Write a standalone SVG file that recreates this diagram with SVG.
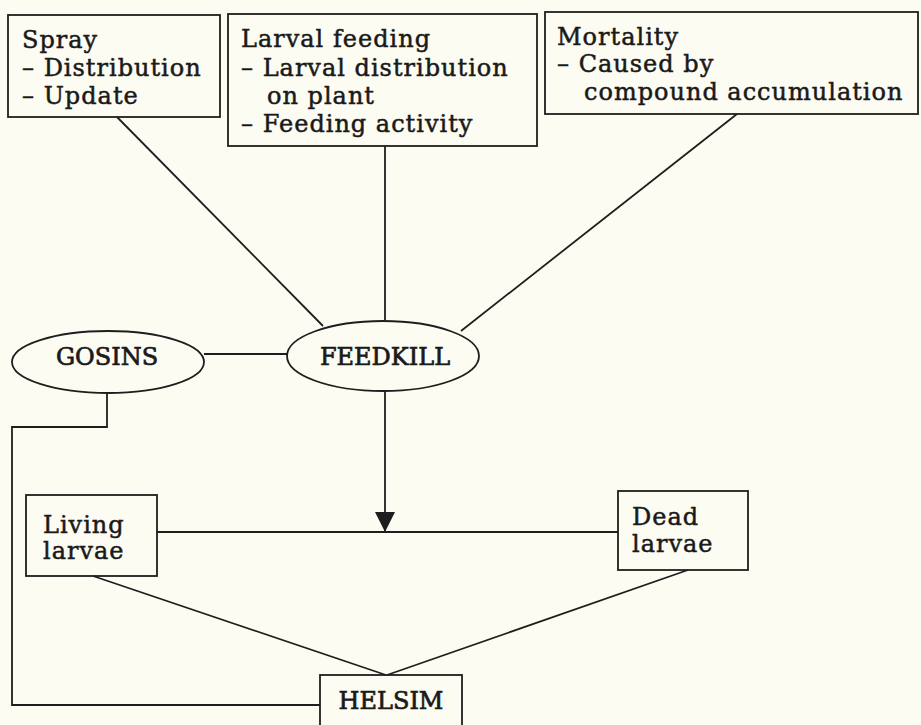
<svg xmlns="http://www.w3.org/2000/svg" width="921" height="725" viewBox="0 0 921 725">
<style>
.box{fill:none;stroke:#1e1e1e;stroke-width:1.8}
.t{font-family:"DejaVu Serif","Liberation Serif",serif;font-size:24px;fill:#1a1a1a;stroke:#1a1a1a;stroke-width:0.5;letter-spacing:1px}
.c{font-family:"DejaVu Serif","Liberation Serif",serif;font-size:24px;fill:#1a1a1a;stroke:#1a1a1a;stroke-width:0.7;text-anchor:middle}
.ln{fill:none;stroke:#1e1e1e;stroke-width:1.8}
</style>
<defs>
<marker id="ah" viewBox="0 0 20 20" refX="20" refY="10" markerWidth="20" markerHeight="20" markerUnits="userSpaceOnUse" orient="auto">
<path d="M0 0 L20 10 L0 20 Z" fill="#1e1e1e"/>
</marker>
</defs>
<rect width="921" height="725" fill="#fdfcf3"/>
<g id="connectors">
<line class="ln" x1="117" y1="117" x2="323" y2="326"/>
<line class="ln" x1="385" y1="146" x2="385" y2="320"/>
<line class="ln" x1="737" y1="114" x2="461" y2="331"/>
<line class="ln" x1="204" y1="354" x2="288" y2="354"/>
<polyline class="ln" points="107,393 107,427 12,427 12,705 320,705"/>
<line class="ln" x1="385" y1="391" x2="385" y2="532" marker-end="url(#ah)"/>
<line class="ln" x1="157" y1="532" x2="618" y2="532"/>
<line class="ln" x1="93" y1="576" x2="386" y2="675"/>
<line class="ln" x1="688" y1="570" x2="387" y2="675"/>
</g>
<g id="spray">
<rect class="box" x="8" y="15" width="212" height="102"/>
<text class="t" x="22" y="48">Spray</text>
<text class="t" x="22" y="76">– Distribution</text>
<text class="t" x="22" y="104">– Update</text>
</g>
<g id="larval-feeding">
<rect class="box" x="228" y="14" width="309" height="132"/>
<text class="t" x="241" y="47">Larval feeding</text>
<text class="t" x="241" y="76">– Larval distribution</text>
<text class="t" x="267" y="104">on plant</text>
<text class="t" x="241" y="132">– Feeding activity</text>
</g>
<g id="mortality">
<rect class="box" x="545" y="12" width="373" height="102"/>
<text class="t" x="557" y="45">Mortality</text>
<text class="t" x="557" y="72">– Caused by</text>
<text class="t" x="584" y="100">compound accumulation</text>
</g>
<g id="gosins">
<ellipse class="box" cx="108" cy="362" rx="96" ry="31"/>
<text class="c" x="107" y="365">GOSINS</text>
</g>
<g id="feedkill">
<ellipse class="box" cx="383" cy="356" rx="96" ry="35"/>
<text class="c" x="385" y="365">FEEDKILL</text>
</g>
<g id="living-larvae">
<rect class="box" x="26" y="495" width="131" height="81"/>
<text class="t" x="43" y="533">Living</text>
<text class="t" x="43" y="559">larvae</text>
</g>
<g id="dead-larvae">
<rect class="box" x="618" y="491" width="130" height="79"/>
<text class="t" x="632" y="525">Dead</text>
<text class="t" x="632" y="552">larvae</text>
</g>
<g id="helsim">
<rect class="box" x="320" y="675" width="142" height="60"/>
<text class="c" x="391" y="709">HELSIM</text>
</g>
</svg>
